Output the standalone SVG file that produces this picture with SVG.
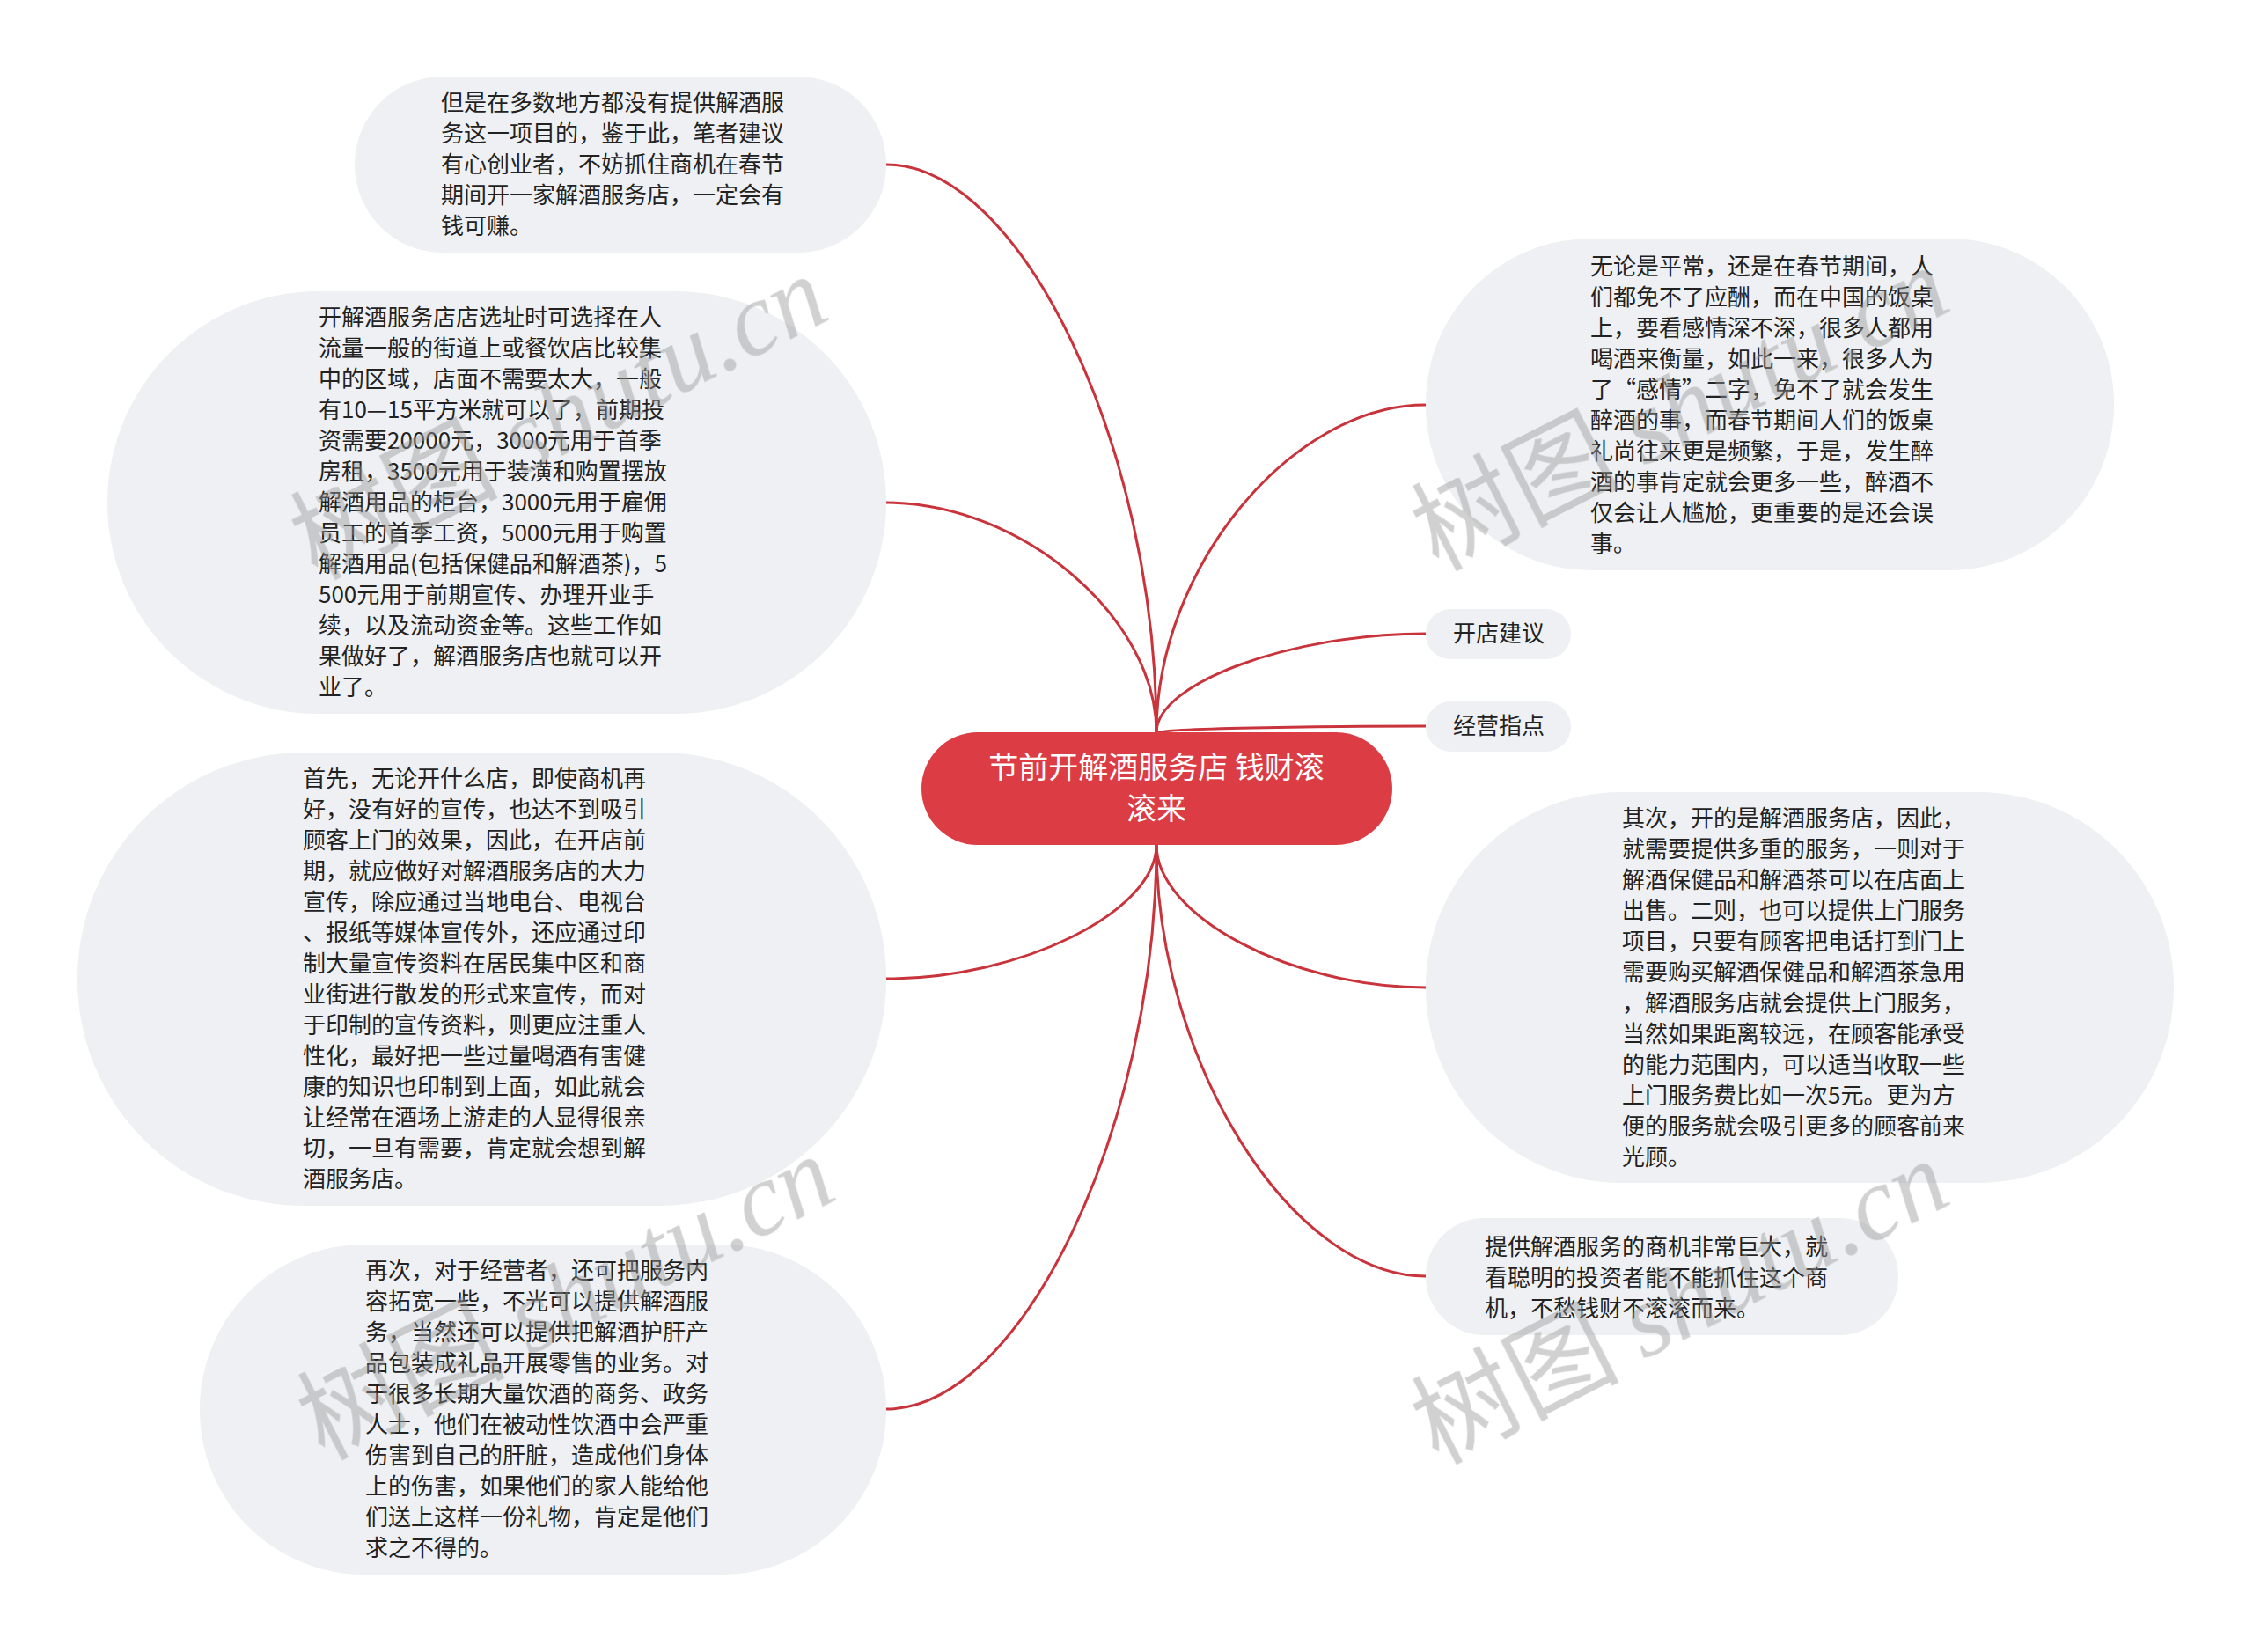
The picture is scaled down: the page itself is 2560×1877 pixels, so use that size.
<svg xmlns="http://www.w3.org/2000/svg" width="2560" height="1877" viewBox="0 0 2560 1877">
<style>
.bg{fill:#ffffff}
.node{fill:#eef0f3}
.root{fill:#dc3c44}
.t{font-family:"Noto Sans CJK SC","Liberation Sans",sans-serif;font-size:26px;fill:#222222;dominant-baseline:central}
.rt{font-family:"Noto Sans CJK SC","Liberation Sans",sans-serif;font-size:34px;fill:#ffffff;dominant-baseline:central;text-anchor:middle}
.up{transform:translate(0px,-3px)}
.c{fill:none;stroke:#c9333b;stroke-width:3}
.wm{font-size:118px;fill:#999999;opacity:0.45}
.wmc{font-family:"Noto Sans CJK SC",sans-serif}
.wml{font-family:"Liberation Serif",serif;font-style:italic}
</style>
<rect class="bg" x="0" y="0" width="2560" height="1877"/>
<g id="connectors">
<path class="c" d="M1314,832 C1314,509.5 1160.5,187 1007,187"/>
<path class="c" d="M1314,832 C1314,701.5 1160.5,571 1007,571"/>
<path class="c" d="M1314,832 C1314,646 1467,460 1620,460"/>
<path class="c" d="M1314,832 C1314,776 1467,720 1620,720"/>
<path class="c" d="M1314,832 C1314,828.5 1467,825 1620,825"/>
<path class="c" d="M1314,960 C1314,1036 1160.5,1112 1007,1112"/>
<path class="c" d="M1314,960 C1314,1280.5 1160.5,1601 1007,1601"/>
<path class="c" d="M1314,960 C1314,1041 1467,1122 1620,1122"/>
<path class="c" d="M1314,960 C1314,1205 1467,1450 1620,1450"/>
</g>
<g id="root">
<rect class="root" x="1047" y="832" width="535" height="128" rx="64" ry="64"/>
<g class="up">
<text class="rt" x="1314" y="872.5">节前开解酒服务店 钱财滚</text>
<text class="rt" x="1314" y="919.5">滚来</text>
</g>
</g>
<g id="n1">
<rect class="node" x="403" y="87" width="604" height="200" rx="100" ry="100"/>
<g class="up"><text class="t"><tspan x="501" y="117">但是在多数地方都没有提供解酒服</tspan><tspan x="501" y="152">务这一项目的，鉴于此，笔者建议</tspan><tspan x="501" y="187">有心创业者，不妨抓住商机在春节</tspan><tspan x="501" y="222">期间开一家解酒服务店，一定会有</tspan><tspan x="501" y="257">钱可赚。</tspan></text></g>
</g>
<g id="n2">
<rect class="node" x="122" y="331" width="885" height="480" rx="240" ry="240"/>
<g class="up"><text class="t"><tspan x="362" y="361">开解酒服务店店选址时可选择在人</tspan><tspan x="362" y="396">流量一般的街道上或餐饮店比较集</tspan><tspan x="362" y="431">中的区域，店面不需要太大，一般</tspan><tspan x="362" y="466">有10—15平方米就可以了，前期投</tspan><tspan x="362" y="501">资需要20000元，3000元用于首季</tspan><tspan x="362" y="536">房租，3500元用于装潢和购置摆放</tspan><tspan x="362" y="571">解酒用品的柜台，3000元用于雇佣</tspan><tspan x="362" y="606">员工的首季工资，5000元用于购置</tspan><tspan x="362" y="641">解酒用品(包括保健品和解酒茶)，5</tspan><tspan x="362" y="676">500元用于前期宣传、办理开业手</tspan><tspan x="362" y="711">续，以及流动资金等。这些工作如</tspan><tspan x="362" y="746">果做好了，解酒服务店也就可以开</tspan><tspan x="362" y="781">业了。</tspan></text></g>
</g>
<g id="n3">
<rect class="node" x="88" y="855" width="919" height="515" rx="257" ry="257"/>
<g class="up"><text class="t"><tspan x="344" y="884.5">首先，无论开什么店，即使商机再</tspan><tspan x="344" y="919.5">好，没有好的宣传，也达不到吸引</tspan><tspan x="344" y="954.5">顾客上门的效果，因此，在开店前</tspan><tspan x="344" y="989.5">期，就应做好对解酒服务店的大力</tspan><tspan x="344" y="1024.5">宣传，除应通过当地电台、电视台</tspan><tspan x="344" y="1059.5">、报纸等媒体宣传外，还应通过印</tspan><tspan x="344" y="1094.5">制大量宣传资料在居民集中区和商</tspan><tspan x="344" y="1129.5">业街进行散发的形式来宣传，而对</tspan><tspan x="344" y="1164.5">于印制的宣传资料，则更应注重人</tspan><tspan x="344" y="1199.5">性化，最好把一些过量喝酒有害健</tspan><tspan x="344" y="1234.5">康的知识也印制到上面，如此就会</tspan><tspan x="344" y="1269.5">让经常在酒场上游走的人显得很亲</tspan><tspan x="344" y="1304.5">切，一旦有需要，肯定就会想到解</tspan><tspan x="344" y="1339.5">酒服务店。</tspan></text></g>
</g>
<g id="n4">
<rect class="node" x="227" y="1414" width="780" height="375" rx="187" ry="187"/>
<g class="up"><text class="t"><tspan x="415" y="1443.5">再次，对于经营者，还可把服务内</tspan><tspan x="415" y="1478.5">容拓宽一些，不光可以提供解酒服</tspan><tspan x="415" y="1513.5">务，当然还可以提供把解酒护肝产</tspan><tspan x="415" y="1548.5">品包装成礼品开展零售的业务。对</tspan><tspan x="415" y="1583.5">于很多长期大量饮酒的商务、政务</tspan><tspan x="415" y="1618.5">人士，他们在被动性饮酒中会严重</tspan><tspan x="415" y="1653.5">伤害到自己的肝脏，造成他们身体</tspan><tspan x="415" y="1688.5">上的伤害，如果他们的家人能给他</tspan><tspan x="415" y="1723.5">们送上这样一份礼物，肯定是他们</tspan><tspan x="415" y="1758.5">求之不得的。</tspan></text></g>
</g>
<g id="n5">
<rect class="node" x="1620" y="271" width="782" height="377" rx="188" ry="188"/>
<g class="up"><text class="t"><tspan x="1807" y="302.5">无论是平常，还是在春节期间，人</tspan><tspan x="1807" y="337.5">们都免不了应酬，而在中国的饭桌</tspan><tspan x="1807" y="372.5">上，要看感情深不深，很多人都用</tspan><tspan x="1807" y="407.5">喝酒来衡量，如此一来，很多人为</tspan><tspan x="1807" y="442.5">了“感情”二字，免不了就会发生</tspan><tspan x="1807" y="477.5">醉酒的事，而春节期间人们的饭桌</tspan><tspan x="1807" y="512.5">礼尚往来更是频繁，于是，发生醉</tspan><tspan x="1807" y="547.5">酒的事肯定就会更多一些，醉酒不</tspan><tspan x="1807" y="582.5">仅会让人尴尬，更重要的是还会误</tspan><tspan x="1807" y="617.5">事。</tspan></text></g>
</g>
<g id="n6">
<rect class="node" x="1620" y="692" width="165" height="57" rx="28.5" ry="28.5"/>
<g class="up"><text class="t" x="1703" y="720.5" text-anchor="middle">开店建议</text></g>
</g>
<g id="n7">
<rect class="node" x="1620" y="797" width="165" height="57" rx="28.5" ry="28.5"/>
<g class="up"><text class="t" x="1703" y="825.5" text-anchor="middle">经营指点</text></g>
</g>
<g id="n8">
<rect class="node" x="1620" y="900" width="850" height="444" rx="222" ry="222"/>
<g class="up"><text class="t"><tspan x="1843" y="929.5">其次，开的是解酒服务店，因此，</tspan><tspan x="1843" y="964.5">就需要提供多重的服务，一则对于</tspan><tspan x="1843" y="999.5">解酒保健品和解酒茶可以在店面上</tspan><tspan x="1843" y="1034.5">出售。二则，也可以提供上门服务</tspan><tspan x="1843" y="1069.5">项目，只要有顾客把电话打到门上</tspan><tspan x="1843" y="1104.5">需要购买解酒保健品和解酒茶急用</tspan><tspan x="1843" y="1139.5">，解酒服务店就会提供上门服务，</tspan><tspan x="1843" y="1174.5">当然如果距离较远，在顾客能承受</tspan><tspan x="1843" y="1209.5">的能力范围内，可以适当收取一些</tspan><tspan x="1843" y="1244.5">上门服务费比如一次5元。更为方</tspan><tspan x="1843" y="1279.5">便的服务就会吸引更多的顾客前来</tspan><tspan x="1843" y="1314.5">光顾。</tspan></text></g>
</g>
<g id="n9">
<rect class="node" x="1620" y="1384" width="537" height="133" rx="66.5" ry="66.5"/>
<g class="up"><text class="t"><tspan x="1687" y="1417">提供解酒服务的商机非常巨大，就</tspan><tspan x="1687" y="1452">看聪明的投资者能不能抓住这个商</tspan><tspan x="1687" y="1487">机，不愁钱财不滚滚而来。</tspan></text></g>
</g>
<g id="watermarks" class="wm" text-anchor="middle">
<text transform="translate(653,510) rotate(-27)"><tspan class="wmc">树图 </tspan><tspan class="wml">shutu.cn</tspan></text>
<text transform="translate(1927,500) rotate(-27)"><tspan class="wmc">树图 </tspan><tspan class="wml">shutu.cn</tspan></text>
<text transform="translate(661,1510) rotate(-27)"><tspan class="wmc">树图 </tspan><tspan class="wml">shutu.cn</tspan></text>
<text transform="translate(1927,1515) rotate(-27)"><tspan class="wmc">树图 </tspan><tspan class="wml">shutu.cn</tspan></text>
</g>
</svg>
